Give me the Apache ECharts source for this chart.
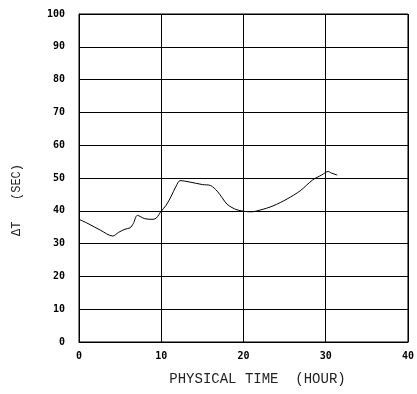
<!DOCTYPE html>
<html>
<head>
<meta charset="utf-8">
<script src="https://cdn.jsdelivr.net/npm/echarts@6/dist/echarts.min.js"></script>
<style>
  html, body { margin: 0; padding: 0; background: #fff; }
  #chart { width: 417px; height: 394px; }
</style>
</head>
<body>
<div id="chart"></div>
<script>
// physical time (hour) and delta T (sec)
var hours = [0, 1.1, 2.6, 4.1, 4.8, 5.6, 6.2, 6.6, 7.1, 8.0, 9.0, 9.4, 10.0, 10.6,
    11.2, 11.8, 12.3, 13.4, 15.0, 16.0, 16.8, 17.4, 18.0, 18.6, 19.2, 20.2, 21.0,
    22.0, 23.6, 25.3, 26.9, 28.4, 29.5, 30.3, 30.7, 31.4];
var deltaT = [37.4, 36.1, 34.1, 32.3, 33.4, 34.4, 34.8, 36.1, 38.6, 37.6, 37.4, 37.8,
    39.9, 41.7, 44.4, 47.5, 49.2, 48.8, 48.0, 47.7, 46.0, 44.0, 42.0, 41.0, 40.3, 39.8,
    39.7, 40.2, 41.5, 43.6, 46.1, 49.4, 50.9, 52.0, 51.5, 50.9];
var yTicks = ["0", "10", "20", "30", "40", "50", "60", "70", "80", "90", "100"];

var pts = [];
for (var i = 0; i < hours.length; i++) {
    pts.push([hours[i], deltaT[i]]);
}

var chart = echarts.init(document.getElementById("chart"));
var labelFont = {
    color: "#000",
    fontFamily: "DejaVu Sans Mono",
    fontWeight: "bold",
    fontSize: 10
};
var option = {
    backgroundColor: "#fff",
    animation: false,
    grid: {
        left: 79, right: 4, top: 14, bottom: 52,
        show: true, borderColor: "#000", borderWidth: 1
    },
    xAxis: {
        type: "value", min: 0, max: 40, interval: 10,
        name: "PHYSICAL TIME  (HOUR)",
        nameLocation: "middle", nameGap: 30,
        nameTextStyle: {
            color: "#222", fontFamily: "Liberation Mono", fontSize: 14,
            padding: [0, 0, 0, 28]
        },
        axisLine: { show: true, lineStyle: { color: "#000", width: 1 } },
        axisTick: { show: false },
        axisLabel: Object.assign({ margin: 9 }, labelFont),
        splitLine: { show: true, lineStyle: { color: "#000", width: 1 } }
    },
    yAxis: {
        type: "value", min: 0, max: 100, interval: 10,
        name: "ΔT   (SEC)",
        nameLocation: "middle", nameGap: 56, nameRotate: 90,
        nameTextStyle: {
            color: "#222", fontFamily: "Liberation Mono", fontSize: 12,
            padding: [0, 44, 0, 0]
        },
        axisLine: { show: true, lineStyle: { color: "#000", width: 1 } },
        axisTick: { show: false },
        axisLabel: Object.assign({
            margin: 14,
            formatter: function (v) { return yTicks[Math.round(v / 10)]; }
        }, labelFont),
        splitLine: { show: true, lineStyle: { color: "#000", width: 1 } }
    },
    series: [{
        type: "line",
        data: pts,
        smooth: 0.3,
        symbol: "none",
        lineStyle: { color: "#000", width: 1 }
    }]
};
chart.setOption(option);
</script>
</body>
</html>
